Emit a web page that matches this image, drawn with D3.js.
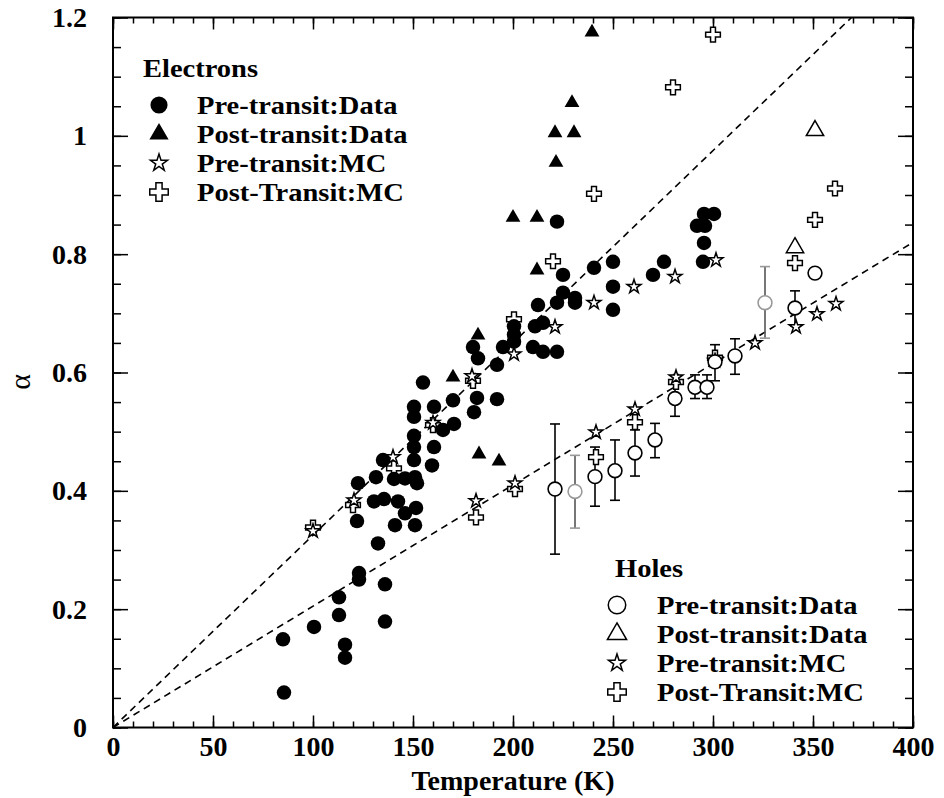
<!DOCTYPE html>
<html>
<head>
<meta charset="utf-8">
<script src="https://cdn.jsdelivr.net/npm/d3@7"></script>
<style>
  body { margin: 0; background: #fff; }
  text { font-family: "Liberation Serif", "Times New Roman", serif; }
</style>
</head>
<body>
<svg id="chart" width="944" height="798"></svg>
<script>
// ---- Electrons ----
// Pre-transit: measured data (filled circles)
const elecPreDataT = [85.5, 85, 100.5, 113, 113, 116, 116, 123, 123, 136, 136, 132.5, 122, 122.5, 131.5,
  130.5, 135.5, 142.5, 141, 146, 151.5, 151, 140.5, 146, 151, 152, 135, 150.5, 150.5, 159.5,
  155, 150.5, 150.5, 160.5, 170, 170.5, 165, 150.5, 160.5, 182, 192, 180.5, 182.5, 180, 192,
  195, 200.5, 200.5, 200.5, 211, 215, 210, 215, 222, 212.5, 222, 222, 225, 225, 231, 231,
  240.5, 250, 250, 250, 270, 275.5, 292, 296, 295.5, 300.5, 295.5, 295];
const elecPreDataA = [0.059, 0.149, 0.170, 0.220, 0.190, 0.140, 0.118, 0.261, 0.250, 0.242, 0.179, 0.311, 0.349, 0.413, 0.423,
  0.382, 0.386, 0.382, 0.342, 0.362, 0.371, 0.342, 0.420, 0.421, 0.423, 0.413, 0.452, 0.474, 0.452, 0.443,
  0.583, 0.542, 0.525, 0.542, 0.553, 0.513, 0.503, 0.493, 0.474, 0.557, 0.555, 0.533, 0.624, 0.643, 0.613,
  0.643, 0.652, 0.664, 0.678, 0.678, 0.684, 0.643, 0.635, 0.635, 0.714, 0.718, 0.855, 0.765, 0.735, 0.726, 0.718,
  0.777, 0.787, 0.745, 0.706, 0.765, 0.787, 0.848, 0.848, 0.868, 0.868, 0.819, 0.787];

// Post-transit: measured data (filled triangles)
const elecPostDataT = [183, 193, 182.5, 170, 200, 212, 212, 221.5, 221, 230.5, 229.5, 239.5];
const elecPostDataA = [0.462, 0.450, 0.663, 0.592, 0.862, 0.862, 0.773, 0.955, 1.005, 1.005, 1.056, 1.175];

// Pre-transit: Monte Carlo (open stars)
const elecPreMcT = [100, 120.5, 140, 160, 179.5, 200.5, 221, 240.5, 260.5, 281, 301.5];
const elecPreMcA = [0.332, 0.384, 0.457, 0.515, 0.594, 0.631, 0.677, 0.718, 0.745, 0.762, 0.790];

// Post-transit: Monte Carlo (open crosses)
const elecPostMcT = [100, 120, 140.5, 160, 180, 200.5, 220, 240.5, 280, 300];
const elecPostMcA = [0.338, 0.376, 0.438, 0.511, 0.586, 0.690, 0.788, 0.902, 1.082, 1.171];

// ---- Holes ----
// Pre-transit: measured data (open circles with error bars)
const holePreDataT  = [221, 231, 241, 251, 261, 271, 281, 291, 297, 301, 311, 326, 341, 351];
const holePreDataA  = [0.403, 0.399, 0.424, 0.434, 0.464, 0.486, 0.556, 0.575, 0.575, 0.618, 0.628, 0.718, 0.709, 0.768];
const holePreDataLo = [0.293, 0.337, 0.374, 0.384, 0.425, 0.456, 0.526, 0.556, 0.556, 0.586, 0.597, 0.658, 0.679, 0.768];
const holePreDataHi = [0.513, 0.460, 0.474, 0.486, 0.503, 0.514, 0.581, 0.596, 0.596, 0.647, 0.657, 0.779, 0.738, 0.768];

// Post-transit: measured data (open triangles)
const holePostDataT = [341, 351];
const holePostDataA = [0.811, 1.009];

// Pre-transit: Monte Carlo (open stars)
const holePreMcT = [181.5, 201, 241.5, 261, 281.5, 301, 321, 341.5, 352, 361.5];
const holePreMcA = [0.383, 0.413, 0.499, 0.538, 0.592, 0.620, 0.650, 0.677, 0.699, 0.716];

// Post-transit: Monte Carlo (open crosses)
const holePostMcT = [181.5, 201, 241.5, 261, 281.5, 301, 341, 351, 361];
const holePostMcA = [0.355, 0.403, 0.457, 0.516, 0.584, 0.625, 0.785, 0.858, 0.911];

// Linear fits through the origin (alpha per kelvin)
const fitSlopes = [0.00325, 0.00205];

// Axis ticks
const xMajorTicks = [0, 50, 100, 150, 200, 250, 300, 350, 400];
const yMajorTicks = [0, 0.2, 0.4, 0.6, 0.8, 1, 1.2];
const yTickLabels = ["0", "0.2", "0.4", "0.6", "0.8", "1", "1.2"];

const electronLegend = ["Pre-transit:Data", "Post-transit:Data", "Pre-transit:MC", "Post-Transit:MC"];
const holeLegend = ["Pre-transit:Data", "Post-transit:Data", "Pre-transit:MC", "Post-Transit:MC"];

// ---------------------------------------------------------------
const svg = d3.select("#chart");
const L = 113, R = 913, T = 17.5, B = 727.5;
const x = d3.scaleLinear().domain([0, 400]).range([L, R]);
const y = d3.scaleLinear().domain([0, 1.2]).range([B, T]);
const zip = (a, b) => a.map((v, i) => [v, b[i]]);

// Axes: inward ticks on all four sides, labels on bottom and left
const xMinor = d3.range(0, 401, 10);
const yMinor = d3.range(0, 1.2001, 0.05);

function styleAxis(g) {
  g.select(".domain").remove();
  g.selectAll("line").attr("stroke", "#000").attr("stroke-width", 1.5);
  g.selectAll("text").attr("fill", "#000").attr("font-weight", "bold").attr("font-size", 28);
}

svg.append("g").attr("transform", `translate(0,${B})`)
  .call(d3.axisBottom(x).tickValues(xMinor).tickSize(-6).tickFormat("")).call(styleAxis);
svg.append("g").attr("transform", `translate(0,${B})`)
  .call(d3.axisBottom(x).tickValues(xMajorTicks).tickSize(-12).tickPadding(9).tickFormat(d3.format("d"))).call(styleAxis);
svg.append("g").attr("transform", `translate(0,${T})`)
  .call(d3.axisTop(x).tickValues(xMinor).tickSize(-6).tickFormat("")).call(styleAxis);
svg.append("g").attr("transform", `translate(0,${T})`)
  .call(d3.axisTop(x).tickValues(xMajorTicks).tickSize(-12).tickFormat("")).call(styleAxis);

svg.append("g").attr("transform", `translate(${L},0)`)
  .call(d3.axisLeft(y).tickValues(yMinor).tickSize(-8).tickFormat("")).call(styleAxis);
svg.append("g").attr("transform", `translate(${L},0)`)
  .call(d3.axisLeft(y).tickValues(yMajorTicks).tickSize(-15).tickPadding(26)
    .tickFormat((d, i) => yTickLabels[i])).call(styleAxis);
svg.append("g").attr("transform", `translate(${R},0)`)
  .call(d3.axisRight(y).tickValues(yMinor).tickSize(-8).tickFormat("")).call(styleAxis);
svg.append("g").attr("transform", `translate(${R},0)`)
  .call(d3.axisRight(y).tickValues(yMajorTicks).tickSize(-15).tickFormat("")).call(styleAxis);

// Frame
svg.append("rect").attr("x", L).attr("y", T).attr("width", R - L).attr("height", B - T)
  .attr("fill", "none").attr("stroke", "#000").attr("stroke-width", 2);

// Axis titles
svg.append("text").attr("x", (L + R) / 2).attr("y", 790).attr("text-anchor", "middle")
  .attr("font-size", 28).attr("font-weight", "bold").text("Temperature (K)");
svg.append("text").attr("transform", "translate(30,382) rotate(-90)").attr("text-anchor", "middle")
  .attr("font-size", 30).text("α");

// Fit lines
svg.append("clipPath").attr("id", "plot-clip")
  .append("rect").attr("x", L).attr("y", T).attr("width", R - L).attr("height", B - T);
svg.append("g").attr("clip-path", "url(#plot-clip)")
  .selectAll("line").data(fitSlopes).join("line")
  .attr("x1", x(0)).attr("y1", y(0))
  .attr("x2", d => x(Math.min(400, 1.2 / d))).attr("y2", d => y(Math.min(400, 1.2 / d) * d))
  .attr("stroke", "#000").attr("stroke-width", 1.6).attr("stroke-dasharray", "7,5");

// Marker helpers
const sym = (type, size) => d3.symbol().type(type).size(size)();
const shapes = {
  dot:      { d: sym(d3.symbolCircle, 165),   fill: "#000", stroke: "none" },
  tri:      { d: sym(d3.symbolTriangle, 95),  fill: "#000", stroke: "none" },
  star:     { d: sym(d3.symbolStar, 60),      fill: "#fff", stroke: "#000" },
  cross:    { d: sym(d3.symbolCross, 120),    fill: "#fff", stroke: "#000" },
  ring:     { d: sym(d3.symbolCircle, 150),   fill: "#fff", stroke: "#000" },
  openTri:  { d: sym(d3.symbolTriangle, 130), fill: "#fff", stroke: "#000" }
};

function drawSeries(points, shape) {
  const s = shapes[shape];
  svg.append("g").selectAll("path").data(points).join("path")
    .attr("transform", d => `translate(${x(d[0])},${y(d[1])})`)
    .attr("d", s.d).attr("fill", s.fill).attr("stroke", s.stroke).attr("stroke-width", 1.5);
}

// Hole error bars
const fadedTemps = [231, 326];
const holePts = holePreDataT.map((t, i) => ({ t, a: holePreDataA[i], lo: holePreDataLo[i], hi: holePreDataHi[i],
  faded: fadedTemps.includes(t) }));
const eb = svg.append("g").selectAll("g").data(holePts.filter(d => d.hi > d.lo)).join("g")
  .attr("stroke", d => d.faded ? "#555" : "#000").attr("stroke-width", 1.6);
eb.append("line").attr("x1", d => x(d.t)).attr("x2", d => x(d.t)).attr("y1", d => y(d.lo)).attr("y2", d => y(d.hi));
eb.append("line").attr("x1", d => x(d.t) - 5).attr("x2", d => x(d.t) + 5).attr("y1", d => y(d.lo)).attr("y2", d => y(d.lo))
  .attr("stroke", d => d.faded ? "#999" : "#000");
eb.append("line").attr("x1", d => x(d.t) - 5).attr("x2", d => x(d.t) + 5).attr("y1", d => y(d.hi)).attr("y2", d => y(d.hi))
  .attr("stroke", d => d.faded ? "#999" : "#000");

// Series
drawSeries(zip(holePostMcT, holePostMcA), "cross");
drawSeries(zip(holePreMcT, holePreMcA), "star");
svg.append("g").selectAll("path").data(holePts).join("path")
  .attr("transform", d => `translate(${x(d.t)},${y(d.a)})`)
  .attr("d", shapes.ring.d).attr("fill", "#fff")
  .attr("stroke", d => d.faded ? "#999" : "#000").attr("stroke-width", 1.6);
drawSeries(zip(holePostDataT, holePostDataA), "openTri");

drawSeries(zip(elecPostMcT, elecPostMcA), "cross");
drawSeries(zip(elecPreMcT, elecPreMcA), "star");
drawSeries(zip(elecPreDataT, elecPreDataA), "dot");
drawSeries(zip(elecPostDataT, elecPostDataA), "tri");

// Legends
const legendShapes = {
  dot:     sym(d3.symbolCircle, 230),
  tri:     sym(d3.symbolTriangle, 160),
  star:    sym(d3.symbolStar, 90),
  cross:   sym(d3.symbolCross, 190),
  ring:    sym(d3.symbolCircle, 240),
  openTri: sym(d3.symbolTriangle, 160)
};
function drawLegend(title, titleX, titleY, labels, keys, symX, textX, rowY) {
  const g = svg.append("g");
  g.append("text").attr("transform", `translate(${titleX},${titleY}) scale(1.14,1)`)
    .attr("font-size", 25).attr("font-weight", "bold").text(title);
  labels.forEach((lab, i) => {
    const k = keys[i];
    const filled = k === "dot" || k === "tri";
    g.append("path").attr("transform", `translate(${symX},${rowY[i]})`).attr("d", legendShapes[k])
      .attr("fill", filled ? "#000" : "#fff").attr("stroke", filled ? "none" : "#000").attr("stroke-width", 1.5);
    g.append("text").attr("transform", `translate(${textX},${rowY[i] + 9}) scale(1.14,1)`)
      .attr("font-size", 25).attr("font-weight", "bold").text(lab);
  });
}
drawLegend("Electrons", 143, 77, electronLegend, ["dot", "tri", "star", "cross"], 159, 197, [105, 134, 163, 192]);
drawLegend("Holes", 615, 577, holeLegend, ["ring", "openTri", "star", "cross"], 617, 657, [605, 634, 663, 692]);
</script>
</body>
</html>
